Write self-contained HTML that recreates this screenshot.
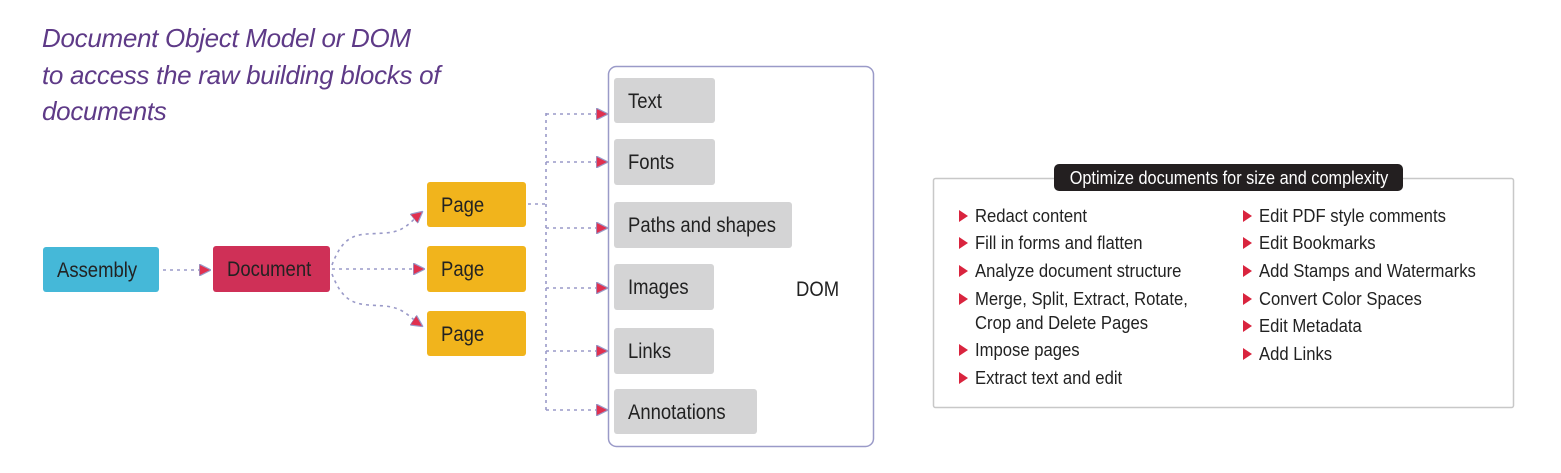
<!DOCTYPE html>
<html><head><meta charset="utf-8"><style>
body{margin:0;width:1561px;height:473px;background:#fff;position:relative;overflow:hidden;font-family:"Liberation Sans",sans-serif;}
.a{position:absolute}
.t{font-style:italic;color:#5e3a87;font-size:26px;left:42px;line-height:36.5px;top:20px;letter-spacing:-0.3px}
.b{position:absolute;border-radius:3px;font-size:21px;color:#222;box-sizing:border-box;line-height:48px;padding-left:14px;white-space:nowrap}
.b span,.li span{display:inline-block;transform:scaleX(0.88);transform-origin:left center}
.li span{transform:scaleX(0.9)}
.g{background:#d4d4d5}
.p{background:#f1b41c}
.li{position:absolute;font-size:18.5px;color:#222;line-height:24px;white-space:nowrap}
.li:before{content:"";position:absolute;left:-16px;top:6px;border-left:9px solid #d9243e;border-top:6px solid transparent;border-bottom:6px solid transparent}
</style></head><body>
<div class="a t">Document Object Model or DOM<br>to access the raw building blocks of<br>documents</div>
<svg class="a" style="left:0;top:0" width="1561" height="473">
<defs><marker id="m" viewBox="0 0 10 10" refX="9" refY="5" markerWidth="12" markerHeight="12" markerUnits="userSpaceOnUse" orient="auto"><path d="M0 0L10 5L0 10z" fill="#e0304f" stroke="#9a9ac8" stroke-width="1"/></marker></defs>
<g fill="none" stroke="#9a9ac8" stroke-width="1.6" stroke-dasharray="3 4">
<path d="M163 270H210" marker-end="url(#m)"/>
<path d="M332 269H424" marker-end="url(#m)"/>
<path d="M332 265C345 230 360 235 385 233C405 232 410 222 422 212" marker-end="url(#m)"/>
<path d="M332 274C345 308 360 304 385 306C405 308 410 318 422 326" marker-end="url(#m)"/>
<path d="M528 204H546"/>
<path d="M546 113V410"/>
<path d="M546 114H607" marker-end="url(#m)"/>
<path d="M546 162H607" marker-end="url(#m)"/>
<path d="M546 228H607" marker-end="url(#m)"/>
<path d="M546 288H607" marker-end="url(#m)"/>
<path d="M546 351H607" marker-end="url(#m)"/>
<path d="M546 410H607" marker-end="url(#m)"/>
</g>
<rect x="608.5" y="66.5" width="265" height="380" rx="8" fill="none" stroke="#9a9ac8" stroke-width="1.5"/>
<rect x="933.5" y="178.5" width="580" height="229" rx="2" fill="none" stroke="#c8c8c8" stroke-width="1.5"/>
</svg>
<div class="b" style="left:43px;top:247px;width:116px;height:45px;background:#45b8d8"><span>Assembly</span></div>
<div class="b" style="left:213px;top:246px;width:117px;height:46px;background:#cf3057"><span>Document</span></div>
<div class="b p" style="left:427px;top:182px;width:99px;height:45px"><span>Page</span></div>
<div class="b p" style="left:427px;top:246px;width:99px;height:46px"><span>Page</span></div>
<div class="b p" style="left:427px;top:311px;width:99px;height:45px"><span>Page</span></div>
<div class="b g" style="left:614px;top:78px;width:101px;height:45px"><span>Text</span></div>
<div class="b g" style="left:614px;top:139px;width:101px;height:46px"><span>Fonts</span></div>
<div class="b g" style="left:614px;top:202px;width:178px;height:46px"><span>Paths and shapes</span></div>
<div class="b g" style="left:614px;top:264px;width:100px;height:46px"><span>Images</span></div>
<div class="b g" style="left:614px;top:328px;width:100px;height:46px"><span>Links</span></div>
<div class="b g" style="left:614px;top:389px;width:143px;height:45px"><span>Annotations</span></div>
<div class="a" style="left:796px;top:278px;font-size:21px;color:#222"><span style="display:inline-block;transform:scaleX(0.88);transform-origin:left">DOM</span></div>
<div class="a" style="left:1054px;top:164px;width:349px;height:27px;background:#231f20;color:#fff;border-radius:5px;font-size:18.5px;text-align:center;line-height:27px;white-space:nowrap;overflow:hidden"><span style="display:inline-block;transform:scaleX(0.88);margin:0 -40px">Optimize documents for size and complexity</span></div>
<div class="li" style="left:975px;top:204px"><span>Redact content</span></div>
<div class="li" style="left:975px;top:231px"><span>Fill in forms and flatten</span></div>
<div class="li" style="left:975px;top:259px"><span>Analyze document structure</span></div>
<div class="li" style="left:975px;top:287px"><span>Merge, Split, Extract, Rotate,<br>Crop and Delete Pages</span></div>
<div class="li" style="left:975px;top:338px"><span>Impose pages</span></div>
<div class="li" style="left:975px;top:366px"><span>Extract text and edit</span></div>
<div class="li" style="left:1259px;top:204px"><span>Edit PDF style comments</span></div>
<div class="li" style="left:1259px;top:231px"><span>Edit Bookmarks</span></div>
<div class="li" style="left:1259px;top:259px"><span>Add Stamps and Watermarks</span></div>
<div class="li" style="left:1259px;top:287px"><span>Convert Color Spaces</span></div>
<div class="li" style="left:1259px;top:314px"><span>Edit Metadata</span></div>
<div class="li" style="left:1259px;top:342px"><span>Add Links</span></div>
</body></html>
